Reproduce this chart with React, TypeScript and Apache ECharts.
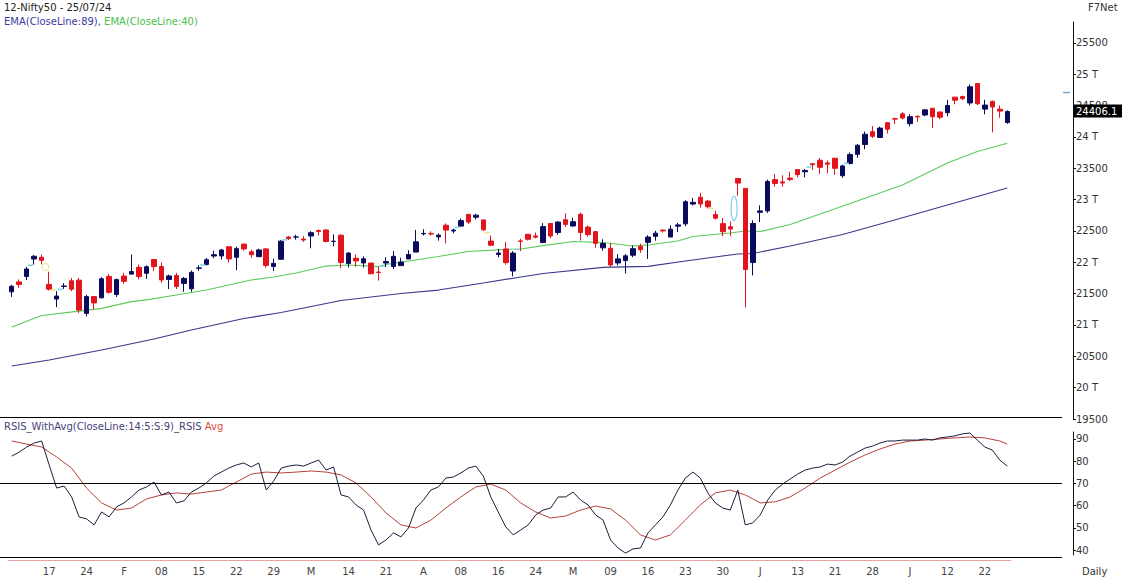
import React, { useEffect, useRef } from "react";
import * as echarts from "echarts";

const dates = [
  "10/01","11/01","12/01","15/01","16/01","17/01","18/01","19/01","20/01","23/01","24/01","25/01","29/01","30/01","31/01",
  "01/02","02/02","05/02","06/02","07/02","08/02","09/02","12/02","13/02","14/02","15/02","16/02","19/02","20/02","21/02","22/02","23/02","26/02","27/02","28/02","29/02",
  "01/03","02/03","04/03","05/03","06/03","07/03","11/03","12/03","13/03","14/03","15/03","18/03","19/03","20/03","21/03","22/03","26/03","27/03","28/03",
  "01/04","02/04","03/04","04/04","05/04","08/04","09/04","10/04","12/04","15/04","16/04","18/04","19/04","22/04","23/04","24/04","25/04","26/04","29/04","30/04",
  "02/05","03/05","06/05","07/05","08/05","09/05","10/05","13/05","14/05","15/05","16/05","17/05","18/05","21/05","22/05","23/05","24/05","27/05","28/05","29/05","30/05","31/05",
  "03/06","04/06","05/06","06/06","07/06","10/06","11/06","12/06","13/06","14/06","18/06","19/06","20/06","21/06","24/06","25/06","26/06","27/06","28/06",
  "01/07","02/07","03/07","04/07","05/07","08/07","09/07","10/07","11/07","12/07","15/07","16/07","18/07","19/07","22/07","23/07","24/07","25/07",
];

const opens = [
  21529,21688,21773,22053,22080,21647,21414,21615,21706,21716,21185,21454,21433,21775,21487,
  21780,21812,21921,21825,22045,21933,21727,21790,21664,21578,21906,21966,22101,22102,22249,22081,22291,22169,22090,22214,21935,
  22049,22404,22403,22371,22420,22507,22517,22335,22432,21983,22065,21990,21988,21843,21989,21932,21947,22054,22164,
  22455,22458,22406,22592,22500,22578,22765,22720,22677,22339,22125,22212,21861,22341,22447,22421,22316,22620,22475,22679,
  22580,22766,22562,22489,22231,22224,21990,22028,22113,22255,22319,22415,22514,22404,22577,22614,22930,23038,22977,22762,22617,22568,
  23338,23180,21998,22798,22821,23319,23283,23344,23480,23444,23573,23629,23587,23661,23382,23577,23723,23881,24085,
  23992,24228,24291,24369,24213,24329,24351,24459,24399,24388,24636,24645,24543,24853,24445,24568,24444,24231,
];
const highs = [
  21641,21726,21928,22115,22124,21851,21539,21670,21750,21750,21482,21459,21763,21813,21741,
  21833,22127,21964,21951,22053,21997,21804,21831,21766,21870,21953,22069,22187,22215,22249,22252,22297,22202,22218,22229,22060,
  22353,22420,22440,22416,22497,22525,22527,22446,22447,22165,22124,22096,21990,21930,22081,22180,22073,22193,22516,
  22529,22495,22460,22619,22537,22698,22768,22775,22677,22428,22213,22326,22179,22375,22447,22476,22626,22625,22655,22783,
  22711,22795,22588,22499,22368,22307,22131,22131,22270,22298,22432,22502,22526,22591,22629,22993,23026,23110,22998,22825,22706,22653,
  23339,23180,22671,22910,23320,23411,23389,23441,23481,23490,23579,23664,23625,23668,23558,23754,23889,24087,24174,
  24165,24237,24309,24401,24364,24345,24443,24461,24402,24593,24636,24661,24837,24854,24595,24582,24504,24426,
];
const lows = [
  21448,21593,21715,21963,21969,21550,21285,21575,21539,21192,21137,21247,21429,21501,21448,
  21658,21806,21729,21737,21860,21672,21574,21574,21530,21530,21860,21950,22066,22045,21997,21875,22186,22075,22085,21915,21860,
  22047,22355,22361,22327,22224,22430,22318,22256,21906,21917,21928,21918,21810,21710,21923,21893,21947,22052,22163,
  22428,22428,22346,22303,22463,22569,22612,22685,22503,22260,22079,21962,21777,22180,22349,22383,22305,22385,22441,22568,
  22567,22348,22409,22232,22185,21932,21950,21821,22082,22151,22054,22345,22476,22404,22483,22577,22908,22871,22858,22685,22417,22417,
  23062,21281,21791,22642,22789,23206,23207,23295,23354,23354,23473,23412,23420,23398,23350,23562,23670,23805,23985,
  23992,24056,24207,24281,24168,24240,24331,24141,24285,24331,24522,24587,24504,24508,24362,24074,24307,24211,
];
const closes = [
  21619,21647,21894,22097,22032,21571,21462,21622,21571,21238,21453,21352,21737,21522,21725,
  21697,21853,21772,21929,21931,21718,21783,21616,21743,21840,21911,22041,22122,22197,22055,22218,22213,22122,22198,21951,21983,
  22338,22379,22406,22356,22474,22493,22333,22335,21998,22147,22023,22056,21817,21839,22012,22096,22005,22124,22327,
  22462,22453,22434,22515,22514,22666,22643,22753,22519,22273,22148,21996,22147,22336,22368,22402,22570,22420,22643,22605,
  22648,22476,22442,22303,22302,21958,22055,22104,22218,22201,22403,22466,22502,22529,22597,22967,22957,22932,22888,22704,22488,22531,
  23264,21884,22620,22821,23290,23259,23265,23323,23399,23466,23557,23516,23567,23501,23538,23721,23868,24044,24011,
  24142,24124,24286,24302,24324,24321,24433,24324,24316,24502,24587,24613,24801,24531,24509,24479,24413,24406.1,
];

// EMA readings: [candle index, value]
const ema89 = [
  [0,20346],[5,20441],[12,20601],[19,20777],[24,20920],[31,21104],[36,21199],[44,21391],[52,21503],[57,21558],
  [63,21670],[68,21766],[71,21822],[79,21918],[85,21934],[90,22021],[97,22133],[99,22141],[104,22261],[111,22444],
  [117,22644],[125,22915],[133,23186],
];
const ema40 = [
  [0,20968],[4,21152],[9,21222],[12,21266],[16,21372],[18,21400],[22,21479],[26,21558],[32,21718],[35,21766],
  [38,21830],[42,21941],[45,21957],[49,21933],[50,21965],[57,22093],[61,22173],[66,22208],[68,22213],[71,22268],
  [75,22332],[79,22316],[83,22261],[85,22277],[89,22340],[91,22412],[96,22468],[98,22500],[100,22492],[104,22604],
  [112,22939],[119,23234],[125,23585],[129,23768],[133,23900],
];

const rsi = [
  82.3,84.1,86.4,88.2,89.1,78.3,67.9,68.8,63.9,54.9,54.0,51.3,57.1,54.9,59.4,61.2,63.9,67.0,68.4,70.6,
  64.8,66.1,61.2,62.1,66.1,67.9,70.2,73.3,75.1,76.9,78.3,79.2,77.4,79.2,67.0,71.1,76.9,77.8,78.3,77.8,
  79.2,80.5,76.0,77.4,64.8,63.9,60.3,58.0,49.0,42.3,44.5,47.7,45.9,49.9,58.9,62.5,67.0,68.4,72.4,72.9,
  74.7,76.9,77.8,73.3,63.9,57.1,50.4,46.8,49.0,51.3,55.8,58.0,58.9,63.9,63.9,66.1,62.5,60.3,55.8,53.5,
  44.5,40.9,38.6,40.5,40.9,47.7,51.3,54.9,60.3,67.0,72.4,75.1,72.4,65.7,61.2,58.9,58.0,67.0,51.3,52.2,
  55.8,62.5,67.0,69.7,72.0,74.2,76.0,76.9,77.4,78.7,78.3,79.6,82.3,84.1,85.9,86.8,88.2,89.1,89.1,89.5,
  89.5,89.5,90.0,89.5,90.5,90.9,91.4,92.3,92.7,89.5,86.4,85.0,80.5,77.8,
];
const rsiAvg = [
  [0,89.1],[2,87.7],[4,86.4],[5,84.1],[6,81.9],[8,76.9],[10,67.9],[12,61.2],[14,58.0],[16,58.9],
  [18,63.0],[20,64.8],[22,65.7],[24,65.2],[26,66.1],[28,67.0],[30,70.6],[32,74.2],[34,75.1],[36,74.7],
  [38,75.1],[40,75.6],[42,75.1],[44,73.8],[46,70.2],[48,63.9],[50,56.7],[52,51.3],[54,49.9],[56,53.5],
  [58,58.9],[60,63.9],[62,68.4],[64,69.7],[66,67.0],[68,61.2],[70,57.1],[72,54.4],[74,55.3],[76,58.0],
  [78,59.8],[80,58.5],[82,53.5],[84,46.8],[86,44.5],[88,46.8],[90,53.5],[92,60.3],[94,65.7],[96,67.0],
  [98,64.8],[100,61.2],[102,61.7],[104,63.9],[106,67.9],[108,72.4],[110,76.0],[112,79.6],[114,82.8],[116,85.5],
  [118,87.7],[120,89.1],[122,89.5],[124,90.0],[126,90.5],[128,90.9],[130,90.5],[132,89.1],[133,87.7],
];

// gap markers: [left candle index, price, kind (0 up dash, 1 down dash, 2 circle, 3 ellipse), price2]
const gapMarks = [
  [2,21952,0,0],[4,21925,2,0],[5,21558,1,0],[6,21569,0,0],[25,21957,0,0],[36,22360,0,0],[49,21941,0,0],
  [59,22559,0,0],[63,22473,1,0],[67,22208,0,0],[93,22862,1,0],[96,22664,3,23058],[106,23521,0,0],[111,23580,0,0],
];

const priceTicks = [19500,20000,20500,21000,21500,22000,22500,23000,23500,24000,24500,25000,25500];
const rsiTicks = [40,50,60,70,80,90];
const xTickLabels = ["17","24","F","08","15","22","29","M","14","21","A","08","16","24","M","09","16","23","30","J","13","21","28","J","12","22"];
const xTickEvery = 5;
const rsiLevel = 70;
const markerLevel = 24710;

const FONT = "DejaVu Sans";
const NAVY = "#0b0b5e";
const RED = "#e3141c";

export default function App() {
  const ref = useRef<HTMLDivElement>(null);
  useEffect(() => {
    if (!ref.current) return;
    const chart = echarts.init(ref.current, undefined, { renderer: "svg" });
    const labelMap: Record<number, string> = {};
    xTickLabels.forEach((l, k) => { labelMap[(k + 1) * xTickEvery] = l; });
    const candles = dates.map((_, i) => [opens[i], closes[i], lows[i], highs[i]]);
    const lastClose = closes[closes.length - 1];

    const option: any = {
      animation: false,
      backgroundColor: "#ffffff",
      grid: [
        { left: 8, width: 1003, top: 22, height: 397 },
        { left: 8, width: 1003, top: 432, height: 123 },
      ],
      xAxis: [
        { type: "category", gridIndex: 0, data: dates, boundaryGap: true, show: false },
        {
          type: "category", gridIndex: 1, data: dates, boundaryGap: true, offset: 5,
          axisLine: { lineStyle: { color: "#e8a4a4", width: 1 } },
          axisTick: { alignWithLabel: true, length: 4, interval: (i: number) => labelMap[i] !== undefined, lineStyle: { color: "#e8a4a4" } },
          axisLabel: {
            interval: (i: number) => labelMap[i] !== undefined,
            formatter: (_v: string, i: number) => labelMap[i] || "",
            color: "#444", fontSize: 10, fontFamily: FONT, margin: 6,
          },
          splitLine: { show: false },
        },
      ],
      yAxis: [
        {
          type: "value", gridIndex: 0, position: "right", offset: 62, min: 19500, max: 25835, scale: true,
          axisLine: { show: true, lineStyle: { color: "#111" } },
          axisTick: { show: true, length: 3, customValues: priceTicks, lineStyle: { color: "#111" } },
          axisLabel: {
            customValues: priceTicks, color: "#333", fontSize: 10, fontFamily: FONT, margin: 3,
            formatter: (v: number) => (v % 1000 === 0 ? `${v / 1000} T` : `${v}`),
          },
          splitLine: { show: false },
        },
        {
          type: "value", gridIndex: 1, position: "right", offset: 62, min: 37.75, max: 93.15,
          axisLine: { show: true, lineStyle: { color: "#111" } },
          axisTick: { show: true, length: 3, customValues: rsiTicks, lineStyle: { color: "#111" } },
          axisLabel: { customValues: rsiTicks, color: "#333", fontSize: 10, fontFamily: FONT, margin: 3 },
          splitLine: { show: false },
        },
      ],
      series: [
        {
          type: "line", name: "EMA89", xAxisIndex: 0, yAxisIndex: 0, data: ema89, showSymbol: false, symbol: "none",
          lineStyle: { color: "#3a3a8e", width: 1.2 }, z: 1,
        },
        {
          type: "line", name: "EMA40", xAxisIndex: 0, yAxisIndex: 0, data: ema40, showSymbol: false, symbol: "none",
          lineStyle: { color: "#5ccc5c", width: 1.2 }, z: 1,
        },
        {
          type: "candlestick", xAxisIndex: 0, yAxisIndex: 0, data: candles, barWidth: 5, z: 3,
          itemStyle: { color: NAVY, color0: RED, borderColor: NAVY, borderColor0: RED, borderWidth: 1 },
        },
        {
          type: "custom", xAxisIndex: 0, yAxisIndex: 0, data: gapMarks, z: 4,
          renderItem: (_p: any, api: any) => {
            const idx = api.value(0);
            const price = api.value(1);
            const kind = api.value(2);
            const band = api.size([1, 0])[0];
            const c = api.coord([idx, price]);
            const x = c[0] + band / 2;
            if (kind === 0 || kind === 1) {
              return {
                type: "line",
                shape: { x1: x - 2.5, y1: c[1], x2: x + 2.5, y2: c[1] },
                style: { stroke: kind === 0 ? "#80d6ec" : "#f2e27a", lineWidth: 1.6 },
              };
            }
            if (kind === 2) {
              return {
                type: "circle",
                shape: { cx: x, cy: c[1], r: 3.5 },
                style: { fill: "none", stroke: "#f2e27a", lineWidth: 1 },
              };
            }
            const c2 = api.coord([idx, api.value(3)]);
            const cy = (c[1] + c2[1]) / 2;
            const ry = Math.abs(c[1] - c2[1]) / 2;
            const rx = 3;
            const pts: number[][] = [];
            for (let k = 0; k < 36; k++) {
              const a = (k / 36) * Math.PI * 2;
              pts.push([x + rx * Math.cos(a), cy + ry * Math.sin(a)]);
            }
            return {
              type: "polygon",
              shape: { points: pts },
              style: { fill: "none", stroke: "#7fd0e6", lineWidth: 1.2 },
            };
          },
        },
        {
          type: "line", name: "RSI", xAxisIndex: 1, yAxisIndex: 1, data: rsi, showSymbol: false, symbol: "none",
          lineStyle: { color: "#1c1c3c", width: 1 }, z: 3,
        },
        {
          type: "line", name: "Avg", xAxisIndex: 1, yAxisIndex: 1, data: rsiAvg, showSymbol: false, symbol: "none",
          lineStyle: { color: "#b8403a", width: 1 }, z: 2,
        },
      ],
    };
    chart.setOption(option);

    const py = chart.convertToPixel({ yAxisIndex: 0 } as any, lastClose) as unknown as number;
    const pm = chart.convertToPixel({ yAxisIndex: 0 } as any, markerLevel) as unknown as number;
    const p70 = chart.convertToPixel({ yAxisIndex: 1 } as any, rsiLevel) as unknown as number;

    chart.setOption({
      graphic: {
        elements: [
          { type: "text", left: 4, top: 2, z: 100, style: { text: "12-Nifty50 - 25/07/24", fill: "#222", font: `10px "${FONT}"` } },
          {
            type: "text", left: 4, top: 16, z: 100,
            style: {
              text: "{a|EMA(CloseLine:89), }{b|EMA(CloseLine:40)}",
              rich: {
                a: { fill: "#3a3aa0", fontSize: 10, fontFamily: FONT },
                b: { fill: "#4cc04c", fontSize: 10, fontFamily: FONT },
              },
            },
          },
          { type: "text", left: 1088, top: 2, z: 100, style: { text: "F7Net", fill: "#333", font: `10px "${FONT}"` } },
          {
            type: "text", left: 4, top: 421, z: 100,
            style: {
              text: "{a|RSIS_WithAvg(CloseLine:14:5:S:9)_RSIS }{b|Avg}",
              rich: {
                a: { fill: "#444478", fontSize: 10, fontFamily: FONT },
                b: { fill: "#d84a40", fontSize: 10, fontFamily: FONT },
              },
            },
          },
          { type: "text", left: 1082, top: 566, z: 100, style: { text: "Daily", fill: "#333", font: `10px "${FONT}"` } },
          { type: "line", z: 100, shape: { x1: 0, y1: 417.5, x2: 1062, y2: 417.5 }, style: { stroke: "#000", lineWidth: 1 } },
          { type: "line", z: 100, shape: { x1: 0, y1: 557.5, x2: 1062, y2: 557.5 }, style: { stroke: "#000", lineWidth: 1 } },
          { type: "line", z: 5, shape: { x1: 0, y1: Math.round(p70) + 0.5, x2: 1062, y2: Math.round(p70) + 0.5 }, style: { stroke: "#000", lineWidth: 1 } },
          { type: "line", z: 100, shape: { x1: 1063, y1: pm, x2: 1070, y2: pm }, style: { stroke: "#7aa8d0", lineWidth: 1.5 } },
          { type: "rect", z: 100, shape: { x: 1074, y: py - 7, width: 48, height: 13 }, style: { fill: "#000" } },
          { type: "text", z: 101, x: 1076, y: py, style: { text: lastClose.toFixed(1), fill: "#fff", font: `10px "${FONT}"`, verticalAlign: "middle" } },
        ],
      },
    });

    return () => chart.dispose();
  }, []);

  return <div ref={ref} style={{ position: "fixed", left: 0, top: 0, width: 1122, height: 580 }} />;
}
